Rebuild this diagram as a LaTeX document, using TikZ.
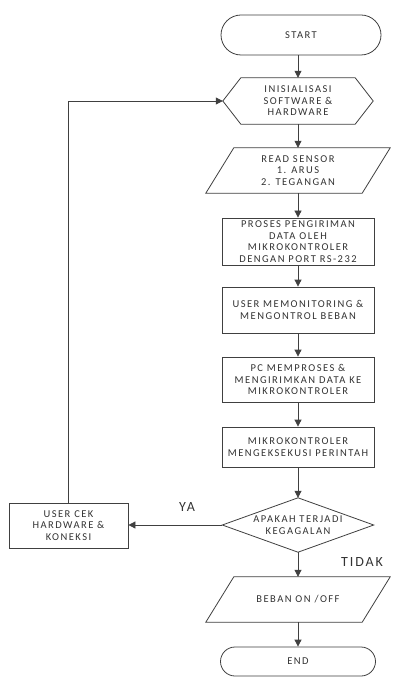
\documentclass[tikz,border=0pt]{standalone}
\usepackage{fontspec}
\setmainfont{Carlito}[LetterSpace=14]
\usetikzlibrary{arrows.meta,shapes.misc}
\tikzset{
  ln/.style={draw=black!75, line width=0.8pt},
  txt/.style={align=center, inner sep=0pt, font=\fontsize{10.5}{11.5}\selectfont, text=black!80},
  box/.style={txt, ln, rectangle, minimum width=152pt},
  term/.style={txt, ln, rounded rectangle},
  frame/.style={txt, rectangle, draw=none},
  arr/.style={ln, -{Triangle[length=7pt,width=7pt]}},
  lbl/.style={inner sep=0pt, font=\fontsize{14}{16}\selectfont, text=black!80}
}
\begin{document}
\begin{tikzpicture}[x=1pt,y=-1pt]
\useasboundingbox (0,0) rectangle (392,684);
\fill[white] (0,0) rectangle (392,684);

% START
\node[term, minimum width=160pt, minimum height=40pt] (start) at (301,35) {START};

% hexagon
\node[frame, minimum width=150pt, minimum height=46pt] (hex) at (298,101) {INISIALISASI\\SOFTWARE \&\\HARDWARE};
\draw[ln] (hex.west) -- ([xshift=18pt]hex.north west) -- ([xshift=-18pt]hex.north east) -- (hex.east) -- ([xshift=-18pt]hex.south east) -- ([xshift=18pt]hex.south west) -- cycle;

% read sensor
\node[frame, minimum width=184pt, minimum height=45pt] (read) at (298,170.5) {READ SENSOR\\1. ARUS\\2. TEGANGAN};
\draw[ln] ([xshift=28pt]read.north west) -- (read.north east) -- ([xshift=-28pt]read.south east) -- (read.south west) -- cycle;

% boxes
\node[box, minimum height=47pt] (p1) at (298,241.5) {PROSES PENGIRIMAN\\DATA OLEH\\MIKROKONTROLER\\DENGAN PORT RS-232};
\node[box, minimum height=46pt] (p2) at (298,310) {USER MEMONITORING \&\\MENGONTROL BEBAN};
\node[box, minimum height=45pt] (p3) at (298,379.5) {PC MEMPROSES \&\\MENGIRIMKAN DATA KE\\MIKROKONTROLER};
\node[box, minimum height=40pt] (p4) at (298,447) {MIKROKONTROLER\\MENGEKSEKUSI PERINTAH};

% decision
\node[frame, minimum width=151pt, minimum height=54pt] (dia) at (298,525) {APAKAH TERJADI\\KEGAGALAN};
\draw[ln] (dia.west) -- (dia.north) -- (dia.east) -- (dia.south) -- cycle;

% beban
\node[frame, minimum width=184pt, minimum height=45pt] (beban) at (298,599.5) {BEBAN ON /OFF};
\draw[ln] ([xshift=28pt]beban.north west) -- (beban.north east) -- ([xshift=-28pt]beban.south east) -- (beban.south west) -- cycle;

% END
\node[term, minimum width=155pt, minimum height=29pt] (end) at (298,661.5) {END};

% user cek
\node[box, minimum width=119pt, minimum height=45pt] (cek) at (68.5,525.5) {USER CEK\\HARDWARE \&\\KONEKSI};

% labels
\node[lbl] (ya) at (187,507) {YA};
\node[lbl] (tidak) at (362,562) {TIDAK};

% connectors
\draw[arr] (start.south -| hex.north) -- (hex.north);
\draw[arr] (hex.south) -- (read.north);
\draw[arr] (read.south) -- (p1.north);
\draw[arr] (p1.south) -- (p2.north);
\draw[arr] (p2.south) -- (p3.north);
\draw[arr] (p3.south) -- (p4.north);
\draw[arr] (p4.south) -- (dia.north);
\draw[arr] (dia.south) -- (beban.north);
\draw[arr] (beban.south) -- (end.north);
\draw[arr] (dia.west) -- (dia.west -| cek.east);
\draw[arr] (cek.north) |- (hex.west);
\end{tikzpicture}
\end{document}
